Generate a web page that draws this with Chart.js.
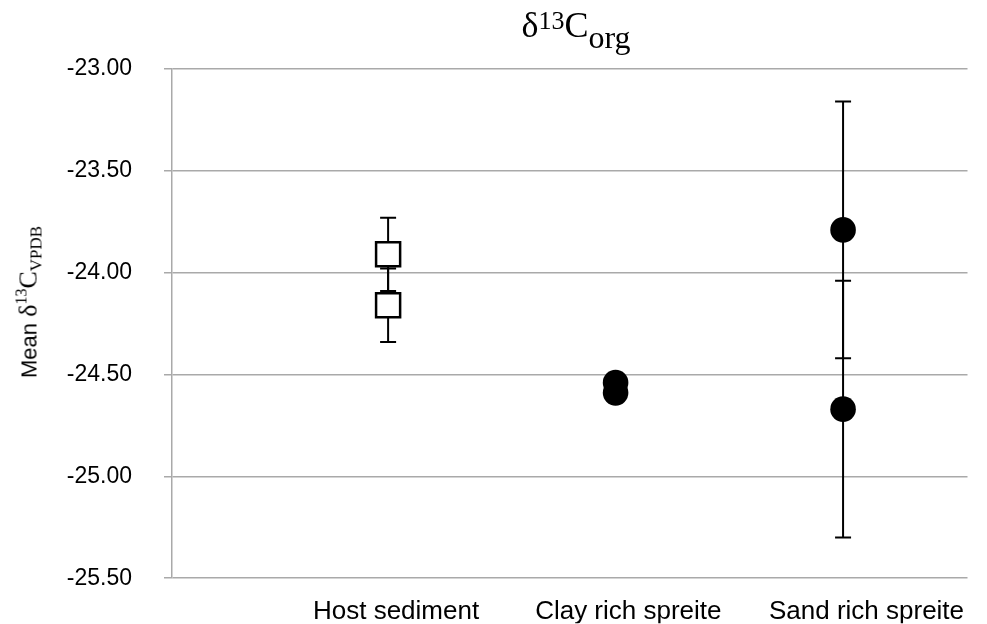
<!DOCTYPE html>
<html>
<head>
<meta charset="utf-8">
<style>
  *{margin:0;padding:0;box-sizing:border-box}
  html,body{width:987px;height:624px;background:#fff;overflow:hidden}
  .wrap{position:relative;width:987px;height:624px}
  canvas{position:absolute;left:0;top:0}
  .title{
    position:absolute;left:426px;top:7px;width:300px;text-align:center;
    font-family:"Liberation Serif","Times New Roman",serif;font-size:36px;line-height:36px;color:#000;
    white-space:nowrap;
  }
  .title sup{font-size:26px;position:relative;top:-8px;vertical-align:baseline}
  .title sub{font-size:32px;position:relative;top:11px;vertical-align:baseline}
  .ylab{
    position:absolute;left:30px;top:302px;white-space:nowrap;
    transform:translate(-50%,-50%) rotate(-90deg);
    font-family:"Liberation Sans",Arial,sans-serif;font-size:22px;line-height:30px;color:#000;
  }
  .ylab .sym{font-family:"Liberation Serif","Times New Roman",serif;font-size:26px}
  .ylab sup{font-size:16px;position:relative;top:-10px;vertical-align:baseline}
  .ylab sub{font-size:17px;position:relative;top:5px;vertical-align:baseline}
</style>
</head>
<body>
<div class="wrap">
  <canvas id="chart" width="987" height="624"></canvas>
  <div class="title">δ<sup>13</sup>C<sub>org</sub></div>
  <div class="ylab">Mean <span class="sym">δ<sup>13</sup>C<sub>VPDB</sub></span></div>
</div>
<script src="https://cdn.jsdelivr.net/npm/chart.js@4/dist/chart.umd.min.js"></script>
<script>
// ─── Data ──────────────────────────────────────────────
const categories = ["Host sediment", "Clay rich spreite", "Sand rich spreite"];
const yTicks = [-23.0, -23.5, -24.0, -24.5, -25.0, -25.5];

const hostX = [1, 1];
const hostMean = [-23.91, -24.16];
const hostErr = [0.18, 0.18];

const clayX = [2, 2];
const clayMean = [-24.54, -24.59];
const clayErr = [0.03, 0.03];

const sandX = [3, 3];
const sandMean = [-23.79, -24.67];
const sandErr = [0.63, 0.63];

// where the category labels sit on the x scale (layout only)
const labelAt = [1.035, 2.056, 3.103];

const toPoints = (xs, ys) => xs.map((x, i) => ({ x, y: ys[i] }));

// ─── Error bars (drawn behind the markers) ─────────────
const errorBars = {
  id: "errorBars",
  beforeDatasetsDraw(chart) {
    const { ctx, scales: { x, y } } = chart;
    ctx.save();
    ctx.strokeStyle = "#000";
    ctx.lineWidth = 2;
    chart.data.datasets.forEach((ds) => {
      if (!ds.errors) return;
      ds.data.forEach((p, i) => {
        const e = ds.errors[i];
        const px = x.getPixelForValue(p.x);
        const top = y.getPixelForValue(p.y + e);
        const bot = y.getPixelForValue(p.y - e);
        ctx.beginPath();
        ctx.moveTo(px, top); ctx.lineTo(px, bot);
        ctx.moveTo(px - 8, top); ctx.lineTo(px + 8, top);
        ctx.moveTo(px - 8, bot); ctx.lineTo(px + 8, bot);
        ctx.stroke();
      });
    });
    ctx.restore();
  },
};

Chart.defaults.font.family = "'Liberation Sans', Arial, sans-serif";
Chart.defaults.color = "#000";

const gridColor = "#a9a9a9";

new Chart(document.getElementById("chart"), {
  type: "scatter",
  data: {
    datasets: [
      {
        data: toPoints(hostX, hostMean),
        errors: hostErr,
        pointStyle: "rect",
        pointRadius: 17,
        backgroundColor: "#fff",
        borderColor: "#000",
        borderWidth: 2.5,
      },
      {
        data: toPoints(clayX, clayMean),
        errors: clayErr,
        pointStyle: "circle",
        pointRadius: 12.8,
        backgroundColor: "#000",
        borderWidth: 0,
      },
      {
        data: toPoints(sandX, sandMean),
        errors: sandErr,
        pointStyle: "circle",
        pointRadius: 12.8,
        backgroundColor: "#000",
        borderWidth: 0,
      },
    ],
  },
  options: {
    responsive: false,
    animation: false,
    events: [],
    layout: { padding: { top: 69, right: 2, bottom: 0, left: 0 } },
    plugins: { legend: { display: false }, tooltip: { enabled: false } },
    scales: {
      x: {
        type: "linear",
        min: 0.05,
        max: 3.547,
        grid: { display: false },
        border: { display: false },
        afterBuildTicks: (s) => { s.ticks = labelAt.map((v) => ({ value: v })); },
        afterFit: (s) => { s.height = 45; },
        ticks: {
          font: { size: 26 },
          padding: 10,
          maxRotation: 0,
          autoSkip: false,
          callback: (v, i) => categories[i],
        },
      },
      y: {
        min: -25.5,
        max: -23,
        afterBuildTicks: (s) => { s.ticks = yTicks.map((v) => ({ value: v })); },
        afterFit: (s) => { s.width = 172; },
        grid: { color: gridColor, lineWidth: 1.5, tickLength: 8 },
        border: { display: true, color: gridColor, width: 1.5 },
        ticks: {
          font: { size: 23 },
          padding: 32,
          callback: (v) => v.toFixed(2),
        },
      },
    },
  },
  plugins: [errorBars],
});
</script>
</body>
</html>
